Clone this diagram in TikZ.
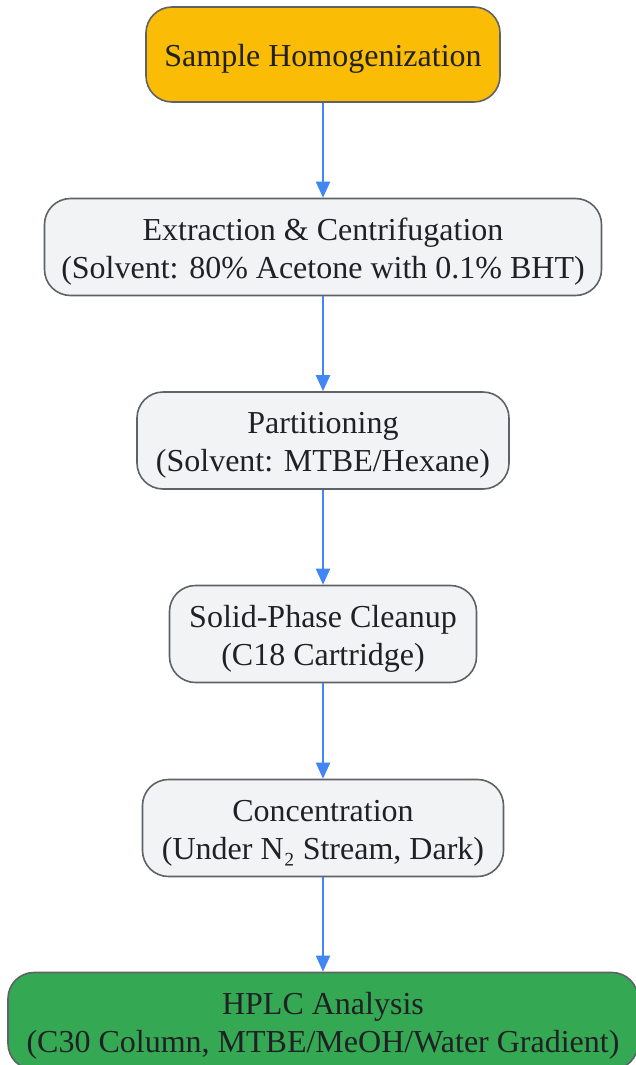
\documentclass[tikz,border=0pt]{standalone}
\usepackage{fontspec}
\setmainfont{Liberation Serif}
\usetikzlibrary{arrows.meta, positioning}
\definecolor{stepfill}{HTML}{F1F3F4}
\definecolor{startfill}{HTML}{FBBC05}
\definecolor{endfill}{HTML}{34A853}
\definecolor{edgegray}{HTML}{5F6368}
\definecolor{flowblue}{HTML}{4285F4}
\definecolor{inkdark}{HTML}{202124}
\newcommand{\blocktop}{\rule{0pt}{31pt}}
\tikzset{
	block/.style={draw=edgegray, line width=1.6pt, fill=stepfill, rounded corners=26pt,
		align=center, inner sep=0pt, minimum height=97pt, text=inkdark,
		font=\fontsize{32}{38}\selectfont},
	flow/.style={-{Triangle[length=16pt, width=14pt]}, draw=flowblue, line width=2pt}
}

\begin{document}
\begin{tikzpicture}
		\useasboundingbox (0,0) rectangle (636pt,-1065pt);
		
		\node[block, fill=startfill, minimum width=354pt, minimum height=95pt] (homog) at (323pt,-54.5pt) {\blocktop Sample Homogenization};
		
		\node[block, minimum width=557pt] (extract) at (323pt,-247pt) {\blocktop Extraction \& Centrifugation \\ (Solvent: 80\% Acetone with 0.1\% BHT)};
		
		\node[block, minimum width=372pt] (partition) at (323pt,-440.5pt) {\blocktop Partitioning \\ (Solvent: MTBE/Hexane)};
		
		\node[block, minimum width=307pt] (cleanup) at (323pt,-634pt) {\blocktop Solid-Phase Cleanup \\ (C18 Cartridge)};
		
		\node[block, minimum width=361pt] (concent) at (323pt,-828pt) {\blocktop Concentration \\ (Under N₂ Stream, Dark)};
		
		\node[block, fill=endfill, minimum width=630pt] (hplc) at (323pt,-1021pt) {\blocktop HPLC Analysis \\ (C30 Column, MTBE/MeOH/Water Gradient)};
		
		\draw[flow] (homog.south)     -- (extract.north);
		\draw[flow] (extract.south)   -- (partition.north);
		\draw[flow] (partition.south) -- (cleanup.north);
		\draw[flow] (cleanup.south)   -- (concent.north);
		\draw[flow] (concent.south)   -- (hplc.north);
	\end{tikzpicture}
\end{document}
